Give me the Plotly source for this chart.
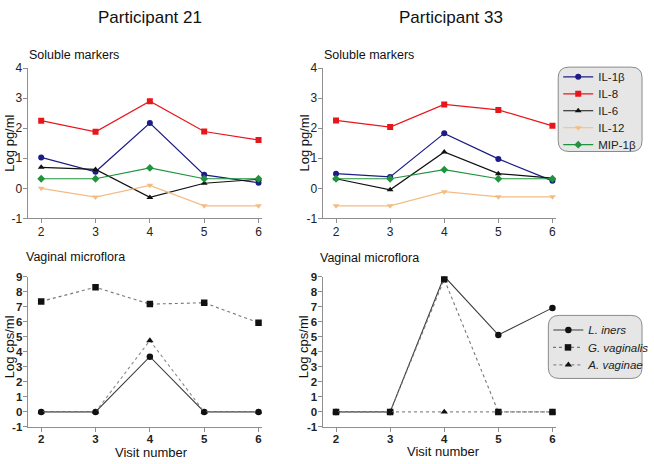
import plotly.graph_objects as go

W, H = 654, 464

visits = [2, 3, 4, 5, 6]
marker_names = ["IL-1β", "IL-8", "IL-6", "IL-12", "MIP-1β"]
flora_names = ["L. iners", "G. vaginalis", "A. vaginae"]
soluble_ticks = [-1, 0, 1, 2, 3, 4]
soluble_ticktext = ["-1", "0", "1", "2", "3", "4"]
flora_ticks = [-1, 0, 1, 2, 3, 4, 5, 6, 7, 8, 9]
flora_ticktext = ["-1", "0", "1", "2", "3", "4", "5", "6", "7", "8", "9"]

# Participant 21 - soluble markers (log pg/ml)
p21_il1b = [1.03, 0.55, 2.17, 0.45, 0.19]
p21_il8 = [2.25, 1.88, 2.90, 1.89, 1.61]
p21_il6 = [0.70, 0.63, -0.30, 0.17, 0.30]
p21_il12 = [0.00, -0.29, 0.10, -0.58, -0.58]
p21_mip1b = [0.32, 0.32, 0.68, 0.32, 0.32]

# Participant 33 - soluble markers (log pg/ml)
p33_il1b = [0.49, 0.38, 1.83, 0.98, 0.25]
p33_il8 = [2.26, 2.04, 2.79, 2.61, 2.08]
p33_il6 = [0.32, -0.05, 1.21, 0.49, 0.34]
p33_il12 = [-0.58, -0.58, -0.11, -0.28, -0.28]
p33_mip1b = [0.32, 0.32, 0.62, 0.32, 0.32]

# Vaginal microflora (log cps/ml)
p21_liners = [0, 0, 3.67, 0, 0]
p21_gvag = [7.35, 8.29, 7.17, 7.26, 5.93]
p21_avag = [0, 0, 4.75, 0, 0]
p33_liners = [0, 0, 9.02, 5.12, 6.92]
p33_gvag = [0, 0, 8.82, 0, 0]
p33_avag = [0, 0, 0, 0, 0]

marker_colors = ["#1c1c86", "#e8161b", "#111111", "#f3bc82", "#1e943c"]
marker_symbols = ["circle", "square", "triangle-up", "triangle-down", "diamond"]
flora_colors = ["#3a3a3a", "#777777", "#8a8a8a"]
flora_dash = ["solid", "dot", "dot"]
flora_symbols = ["circle", "square", "triangle-up"]

fig = go.Figure()


def px_x(p):
    return p / W


def px_y(p):
    return (H - p) / H


# axis domains (pixel positions)
left_x = [px_x(28), px_x(266)]
right_x = [px_x(327), px_x(564)]
top_y = [px_y(218), px_y(63)]
bot_y = [px_y(433), px_y(278)]

# one legend per entry, so each entry sits at the reference spacing
top_legend_ids = ["legend", "legend2", "legend3", "legend4", "legend5"]
top_legend_rows = [72, 89.5, 107, 124.5, 142]
bot_legend_ids = ["legend6", "legend7", "legend8"]
bot_legend_rows = [333, 351, 369]

soluble_sets = [
    ("x", "y", [p21_il1b, p21_il8, p21_il6, p21_il12, p21_mip1b], False),
    ("x2", "y2", [p33_il1b, p33_il8, p33_il6, p33_il12, p33_mip1b], True),
]
for xa, ya, series, show in soluble_sets:
    for name, vals, col, sym, lg in zip(marker_names, series, marker_colors, marker_symbols, top_legend_ids):
        fig.add_trace(go.Scatter(
            x=visits, y=vals, name=name, mode="lines+markers",
            xaxis=xa, yaxis=ya, legend=lg, showlegend=show,
            line=dict(color=col, width=1.2),
            marker=dict(symbol=sym, size=6, color=col),
        ))

flora_sets = [
    ("x3", "y3", [p21_liners, p21_gvag, p21_avag], False),
    ("x4", "y4", [p33_liners, p33_gvag, p33_avag], True),
]
for xa, ya, series, show in flora_sets:
    for name, vals, col, dash, sym, lg in zip(flora_names, series, flora_colors, flora_dash, flora_symbols, bot_legend_ids):
        fig.add_trace(go.Scatter(
            x=visits, y=vals, name="<i>" + name + "</i>", mode="lines+markers",
            xaxis=xa, yaxis=ya, legend=lg, showlegend=show,
            line=dict(color=col, width=1.1, dash=dash),
            marker=dict(symbol=sym, size=6.5, color="#111111"),
        ))

axis_common = dict(
    showline=True, linecolor="#8f8f8f", linewidth=1,
    ticks="outside", ticklen=4, tickcolor="#8f8f8f", tickwidth=1,
    showgrid=False, zeroline=False,
)
font_fam = "Liberation Sans, Arial, sans-serif"
reg_tick = dict(family=font_fam, size=12, color="#222222")
bold_tick = dict(family=font_fam, size=11.5, color="#222222", weight="bold")

layout_axes = {}
for i, (dx, dy, yr, tv, tt, tf, xso) in enumerate([
    (left_x, top_y, [-1, 4], soluble_ticks, soluble_ticktext, reg_tick, -2),
    (right_x, top_y, [-1, 4], soluble_ticks, soluble_ticktext, reg_tick, -2),
    (left_x, bot_y, [-1, 9], flora_ticks, flora_ticktext, bold_tick, -3),
    (right_x, bot_y, [-1, 9], flora_ticks, flora_ticktext, bold_tick, -3),
]):
    n = "" if i == 0 else str(i + 1)
    layout_axes["xaxis" + n] = dict(
        domain=dx, range=[1.75, 6.07], tickvals=visits, anchor="y" + n,
        tickfont=tf, ticklabelstandoff=xso, **axis_common)
    layout_axes["yaxis" + n] = dict(
        domain=dy, range=yr, tickvals=tv, ticktext=tt, anchor="x" + n,
        tickfont=tf, ticklabelstandoff=-2, **axis_common)

fig.update_layout(**layout_axes)


def rounded(x0, y0, x1, y1, r):
    # x0,y0 top-left, x1,y1 bottom-right in pixels -> paper path
    def P(x, y):
        return f"{px_x(x):.5f},{px_y(y):.5f}"
    return (
        f"M {P(x0 + r, y0)} L {P(x1 - r, y0)} Q {P(x1, y0)} {P(x1, y0 + r)} "
        f"L {P(x1, y1 - r)} Q {P(x1, y1)} {P(x1 - r, y1)} "
        f"L {P(x0 + r, y1)} Q {P(x0, y1)} {P(x0, y1 - r)} "
        f"L {P(x0, y0 + r)} Q {P(x0, y0)} {P(x0 + r, y0)} Z"
    )


shapes = [
    dict(type="path", xref="paper", yref="paper", path=rounded(566, 62, 651, 149, 11),
         fillcolor="#e6e6e6", line=dict(color="#8a8a8a", width=1), layer="below"),
    dict(type="path", xref="paper", yref="paper", path=rounded(556, 318, 651, 383, 11),
         fillcolor="#e6e6e6", line=dict(color="#8a8a8a", width=1), layer="below"),
]

ann = []
def add_text(text, x, y, size, xanchor="center", yanchor="middle", angle=0):
    ann.append(dict(text=text, x=px_x(x), y=px_y(y), xref="paper", yref="paper",
                    showarrow=False, xanchor=xanchor, yanchor=yanchor, textangle=angle,
                    font=dict(family=font_fam, size=size, color="#111111")))

add_text("Participant 21", 152, 11, 17)
add_text("Participant 33", 457, 11, 17)
add_text("Soluble markers", 27, 49, 12.5, xanchor="left")
add_text("Soluble markers", 326, 49, 12.5, xanchor="left")
add_text("Vaginal microflora", 24, 258, 12.5, xanchor="left")
add_text("Vaginal microflora", 322, 259, 12.5, xanchor="left")
add_text("Log pg/ml", 10, 140, 13, angle=-90)
add_text("Log pg/ml", 309, 140, 13, angle=-90)
add_text("Log cps/ml", 10, 350, 13, angle=-90)
add_text("Log cps/ml", 308, 350, 13, angle=-90)
add_text("Visit number", 154, 459, 13)
add_text("Visit number", 450, 458, 13)

legend_layout = {}
for lg, row in zip(top_legend_ids, top_legend_rows):
    legend_layout[lg] = dict(
        x=px_x(566), y=px_y(row), xanchor="left", yanchor="middle",
        bgcolor="rgba(0,0,0,0)", borderwidth=0, itemwidth=30,
        font=dict(family=font_fam, size=11.5, color="#222222"))
for lg, row in zip(bot_legend_ids, bot_legend_rows):
    legend_layout[lg] = dict(
        x=px_x(556), y=px_y(row), xanchor="left", yanchor="middle",
        bgcolor="rgba(0,0,0,0)", borderwidth=0, itemwidth=30,
        font=dict(family=font_fam, size=11.5, color="#222222"))

fig.update_layout(
    width=W, height=H,
    margin=dict(l=0, r=0, t=0, b=0),
    paper_bgcolor="white", plot_bgcolor="white",
    shapes=shapes, annotations=ann,
    showlegend=True,
    **legend_layout,
)

fig.write_html("out.html", config={"displayModeBar": False},
               post_script="document.body.style.margin='0';document.body.style.overflow='hidden';")
